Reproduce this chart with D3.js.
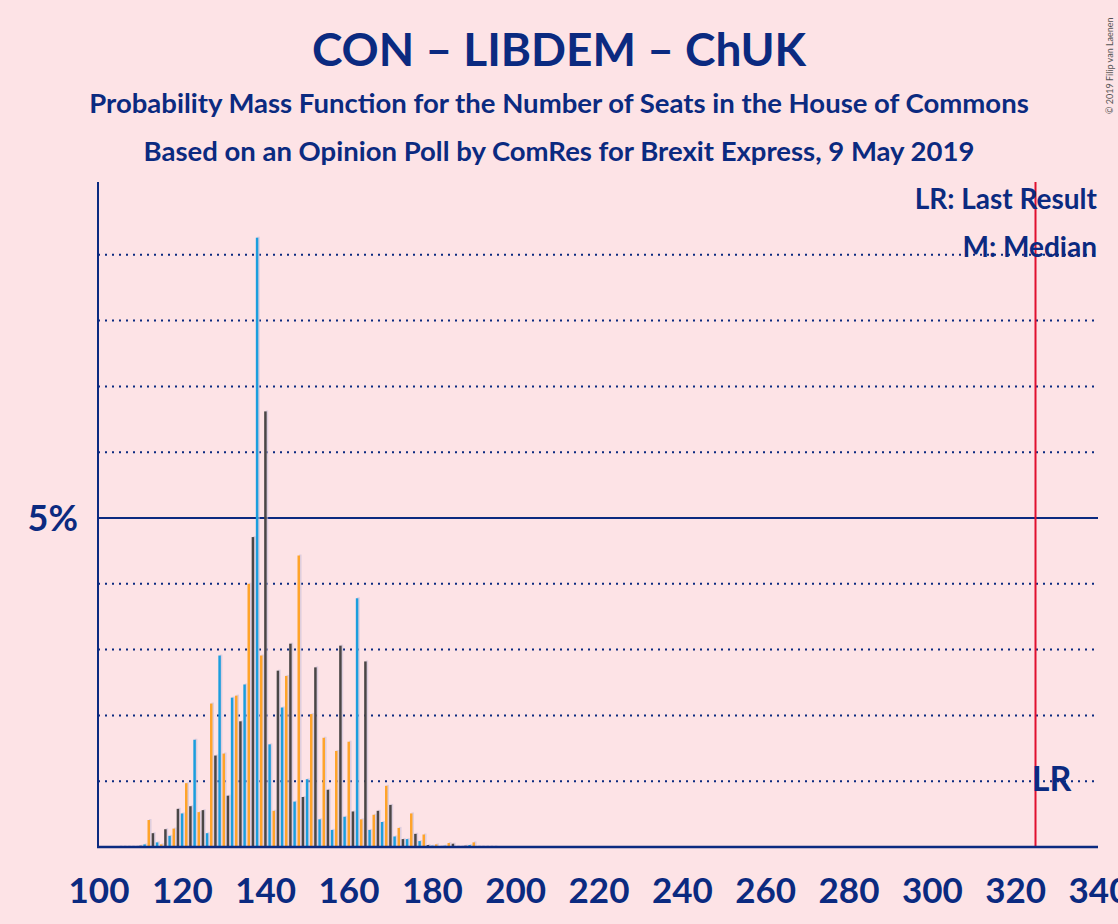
<!DOCTYPE html>
<html><head><meta charset="utf-8">
<script src="https://cdn.jsdelivr.net/npm/d3@7"></script>
<style>body{margin:0;background:#fde3e6}svg{display:block;font-family:Lato,"Open Sans",sans-serif}</style>
</head><body><svg id="c" width="1118" height="924"></svg>
<script>
const seats = d3.range(105, 196);
const probs = [0.01,0.01,0.01,0.01,0.01,
0.02,0.04,0.41,0.21,0.07,0.04,0.27,0.17,0.28,0.58,0.51,0.97,0.62,1.63,0.53,0.56,0.21,2.18,1.39,2.91,1.42,0.78,
2.27,2.30,1.91,2.47,4.00,4.71,9.26,2.91,6.62,1.56,0.55,2.68,2.12,2.60,3.09,0.69,4.43,0.76,1.03,2.02,2.73,0.42,
1.66,0.87,0.26,1.46,3.06,0.46,1.60,0.54,3.78,0.42,2.82,0.26,0.49,0.55,0.38,0.93,0.64,0.16,0.29,0.12,0.12,
0.51,0.20,0.09,0.19,0.03,0.02,0.04,0.01,0.02,0.06,0.05,0.01,0.01,0.02,0.03,0.07,0.01,0.01,0.01,0.01,0.01];
const seriesColours = ["#1b9ede","#ffa42a","#4a4646"];
const xTicks = d3.range(100, 341, 20);
const yGrid = [1,2,3,4,5,6,7,8,9];
const lastResult = 325;

const svg = d3.select("#c");
const x = d3.scaleLinear().domain([100,340]).range([98,1098]);
const y = d3.scaleLinear().domain([0,5]).range([847,518]);
const navy = "#0b2a80";

svg.append("text").attr("x",559).attr("y",66).attr("text-anchor","middle").attr("fill",navy)
  .attr("font-size",46).attr("font-weight","bold").text("CON – LIBDEM – ChUK");
svg.append("text").attr("x",559).attr("y",113).attr("text-anchor","middle").attr("fill",navy)
  .attr("font-size",27.5).attr("font-weight","bold").text("Probability Mass Function for the Number of Seats in the House of Commons");
svg.append("text").attr("x",559).attr("y",161).attr("text-anchor","middle").attr("fill",navy)
  .attr("font-size",27.5).attr("font-weight","bold").text("Based on an Opinion Poll by ComRes for Brexit Express, 9 May 2019");
svg.append("text").attr("transform","translate(1113,114) rotate(-90)").attr("fill","#555")
  .attr("font-size",9).text("© 2019 Filip van Laenen");

yGrid.forEach(v=>{
  svg.append("line").attr("x1",98).attr("x2",1098).attr("y1",y(v)).attr("y2",y(v))
    .attr("stroke",navy).attr("stroke-width",2).attr("stroke-dasharray",v===5?null:"2,5");
});
svg.append("text").attr("x",78).attr("y",y(5)+13).attr("text-anchor","end").attr("fill",navy)
  .attr("font-size",36).attr("font-weight","bold").text("5%");

const g = svg.append("g");
seats.forEach((s,i)=>{
  const c = seriesColours[s%3];
  const h = 847 - y(probs[i]);
  g.append("rect").attr("x",x(s)+1).attr("y",y(probs[i])-1).attr("width",2.5).attr("height",h+1).attr("fill","#c9c0d8").attr("opacity",0.6);
  g.append("rect").attr("x",x(s)-0.5).attr("y",y(probs[i])).attr("width",2.5).attr("height",h).attr("fill",c);
});

svg.append("line").attr("x1",x(lastResult)).attr("x2",x(lastResult)).attr("y1",182).attr("y2",847)
  .attr("stroke","#e0102f").attr("stroke-width",2);
svg.append("text").attr("x",x(lastResult)+16).attr("y",791).attr("text-anchor","middle").attr("fill",navy)
  .attr("font-size",34).attr("font-weight","bold").text("LR");

svg.append("line").attr("x1",98).attr("x2",98).attr("y1",182).attr("y2",848).attr("stroke",navy).attr("stroke-width",2);
svg.append("line").attr("x1",97).attr("x2",1098).attr("y1",847).attr("y2",847).attr("stroke",navy).attr("stroke-width",2.5);
xTicks.forEach(t=>{
  svg.append("text").attr("x",x(t)+1).attr("y",903).attr("text-anchor","middle").attr("fill",navy)
    .attr("font-size",35).attr("font-weight","bold").text(t);
});
svg.append("text").attr("x",1097).attr("y",209).attr("text-anchor","end").attr("fill",navy)
  .attr("font-size",28).attr("font-weight","bold").text("LR: Last Result");
svg.append("text").attr("x",1097).attr("y",257).attr("text-anchor","end").attr("fill",navy)
  .attr("font-size",28).attr("font-weight","bold").text("M: Median");
</script></body></html>
